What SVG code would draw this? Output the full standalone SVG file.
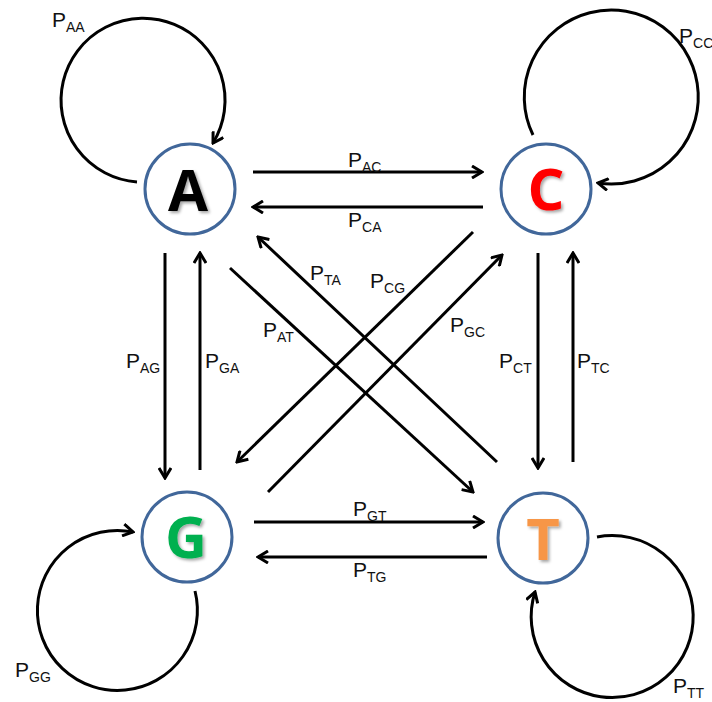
<svg xmlns="http://www.w3.org/2000/svg" width="712" height="702" viewBox="0 0 712 702">
<style>
.node{fill:#fff;stroke:#41679a;stroke-width:3}
.ltr{font-family:"Open Sans","Liberation Sans",sans-serif;font-weight:bold;font-size:58px;text-anchor:middle;filter:url(#sh)}
.e{fill:none;stroke:#000;stroke-width:3;marker-end:url(#ah)}
.lb{font-family:"Liberation Sans",Arial,sans-serif;font-size:21px;fill:#111}
.s{font-size:14px}
</style>
<defs>
<marker id="ah" viewBox="0 0 14 14" refX="12" refY="7" markerWidth="14" markerHeight="14" markerUnits="userSpaceOnUse" orient="auto">
<path d="M2,1 L12,7 L2,13" fill="none" stroke="#000" stroke-width="3"/>
</marker>
<filter id="sh" x="-20%" y="-20%" width="150%" height="150%">
<feDropShadow dx="2" dy="2" stdDeviation="1.5" flood-color="#000" flood-opacity="0.35"/>
</filter>
</defs>
<g id="connectors">
<path class="e" d="M253,172 L482,172"/>
<path class="e" d="M483,207 L253,207"/>
<path class="e" d="M254,522 L483,522"/>
<path class="e" d="M487,557 L258,557"/>
<path class="e" d="M165,253 L165,478"/>
<path class="e" d="M200,470 L200,253"/>
<path class="e" d="M538,253 L538,468"/>
<path class="e" d="M573,462 L573,253"/>
<path class="e" d="M230,268 L473,492"/>
<path class="e" d="M497,462 L258,237"/>
<path class="e" d="M473,232 L237,462"/>
<path class="e" d="M268,492 L502,255"/>
<path class="e" d="M137,182 A82,82 0 1 1 213,143"/>
<path class="e" d="M533,135 A87,87 0 1 1 598,183"/>
<path class="e" d="M195,591 A80,80 0 1 1 133,532"/>
<path class="e" d="M597,537 A81,81 0 1 1 535,592"/>
</g>
<g id="labels">
<text class="lb" x="52" y="27">P<tspan class="s" dy="5">AA</tspan></text>
<text class="lb" x="679" y="43">P<tspan class="s" dy="5">CC</tspan></text>
<text class="lb" x="15" y="677">P<tspan class="s" dy="5">GG</tspan></text>
<text class="lb" x="673" y="693">P<tspan class="s" dy="5">TT</tspan></text>
<text class="lb" x="348" y="167">P<tspan class="s" dy="5">AC</tspan></text>
<text class="lb" x="348" y="227">P<tspan class="s" dy="5">CA</tspan></text>
<text class="lb" x="353" y="516">P<tspan class="s" dy="5">GT</tspan></text>
<text class="lb" x="353" y="577">P<tspan class="s" dy="5">TG</tspan></text>
<text class="lb" x="126" y="368">P<tspan class="s" dy="5">AG</tspan></text>
<text class="lb" x="205" y="368">P<tspan class="s" dy="5">GA</tspan></text>
<text class="lb" x="499" y="368">P<tspan class="s" dy="5">CT</tspan></text>
<text class="lb" x="577" y="368">P<tspan class="s" dy="5">TC</tspan></text>
<text class="lb" x="310" y="280">P<tspan class="s" dy="5">TA</tspan></text>
<text class="lb" x="370" y="288">P<tspan class="s" dy="5">CG</tspan></text>
<text class="lb" x="263" y="337">P<tspan class="s" dy="5">AT</tspan></text>
<text class="lb" x="450" y="332">P<tspan class="s" dy="5">GC</tspan></text>
</g>
<g id="A"><circle class="node" cx="190" cy="189" r="45"/><text class="ltr" x="188" y="211" fill="#000">A</text></g>
<g id="C"><circle class="node" cx="546" cy="189" r="45"/><text class="ltr" x="546" y="210" fill="#ff0000">C</text></g>
<g id="G"><circle class="node" cx="187" cy="537" r="45"/><text class="ltr" x="186" y="558" fill="#00b050">G</text></g>
<g id="T"><circle class="node" cx="543" cy="538" r="45"/><text class="ltr" x="543" y="560" fill="#f79646">T</text></g>
</svg>
